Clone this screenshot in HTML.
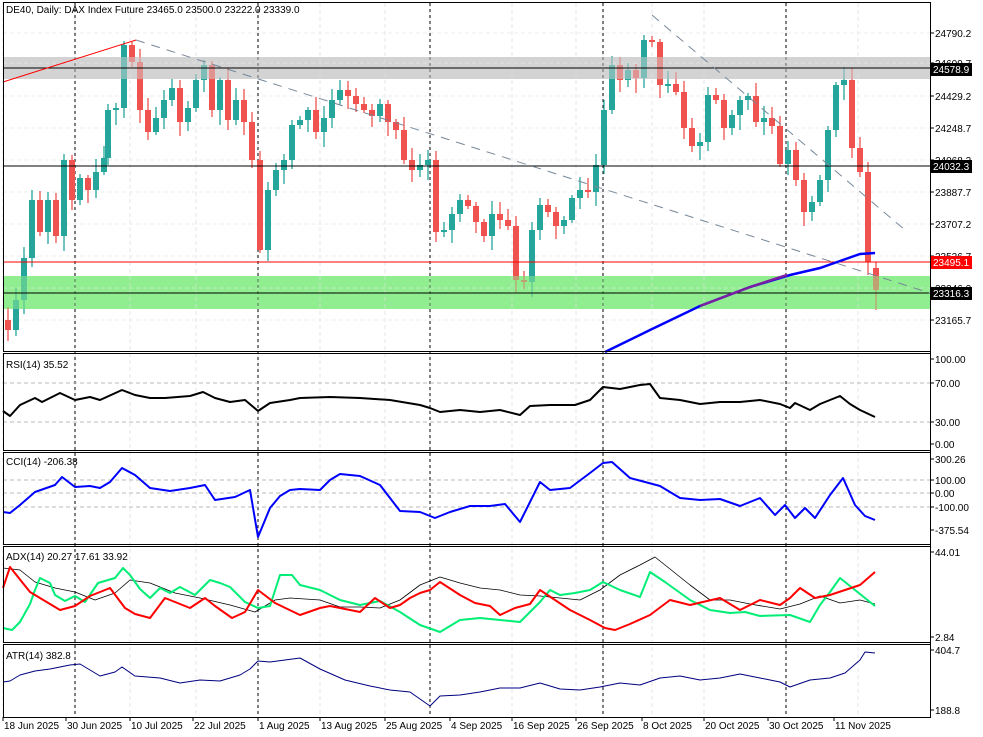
<!DOCTYPE html>
<html><head><meta charset="utf-8"><style>
body{margin:0;background:#fff;}
svg{display:block;font-family:"Liberation Sans",sans-serif;}
</style></head><body>
<svg id="s" width="983" height="737" xmlns="http://www.w3.org/2000/svg"></svg>
<script>
const S=document.getElementById('s');let h='';
const R=930;
function P(pts){let a=[];for(let i=0;i<pts.length;i+=2)a.push(pts[i]+','+pts[i+1]);return a.join(' ');}
h+='<rect x="3" y="57" width="'+(R-3)+'" height="22" fill="#d3d3d3"/>';
h+='<rect x="3" y="276" width="'+(R-3)+'" height="33" fill="#90ee90"/>';
const dx=[3,75,130,196,258,320,385,430,512,576,603,652,704,786,858];
dx.forEach(x=>{h+='<line x1="'+x+'" y1="3" x2="'+x+'" y2="717" stroke="#e6e6ec" stroke-dasharray="4,3"/>';});
[33,63,96,128,160,192,224,256,288,320].forEach(y=>{h+='<line x1="3" y1="'+y+'" x2="'+R+'" y2="'+y+'" stroke="#eee" stroke-dasharray="4,3"/>';});
[75,258,430,603,786].forEach(x=>{h+='<line x1="'+x+'" y1="3" x2="'+x+'" y2="717" stroke="#000" stroke-dasharray="3,3"/>';});
const cl=[8,330,16,300,24,258,32,200,40,232,48,200,56,236,64,160,72,200,80,178,88,190,96,172,104,158,108,110,116,108,124,45,132,62,140,110,148,132,156,118,164,100,172,88,180,122,188,108,196,80,204,65,212,110,220,80,228,120,236,100,244,122,252,160,260,250,268,190,276,170,284,160,292,125,300,120,308,110,316,132,324,118,332,100,340,90,348,96,356,104,364,110,372,116,380,104,388,122,396,130,404,160,412,170,420,165,428,160,436,232,444,230,452,214,460,200,468,206,476,222,484,236,492,214,500,220,508,226,516,280,524,282,532,230,540,205,548,212,556,226,564,220,572,198,580,190,588,192,596,165,604,110,612,65,620,80,628,70,636,78,644,40,652,42,660,85,668,84,676,92,684,128,692,146,700,142,708,95,716,100,724,128,732,115,740,100,748,96,756,122,764,118,772,126,780,164,788,150,796,180,804,212,812,202,820,180,828,130,836,85,844,80,852,148,860,172,868,262];
let prev=320;
function candle(x,o,c,w1,w2){const up=c<o;const top=Math.min(o,c),bot=Math.max(o,c);const col=up?'#26a69a':'#ef5350';
h+='<line x1="'+x+'" y1="'+(top-w1)+'" x2="'+x+'" y2="'+(bot+w2)+'" stroke="'+col+'" stroke-width="1.3"/>';
h+='<rect x="'+(x-3)+'" y="'+top+'" width="6" height="'+Math.max(2,bot-top)+'" fill="'+col+'"/>';}
for(let i=0;i<cl.length;i+=2){const x=cl[i],c=cl[i+1];candle(x,prev,c,3+((x*37)%11),3+((x*53)%13));prev=c;}
candle(876,268,290,6,20);
h+='<rect x="3" y="57" width="'+(R-3)+'" height="22" fill="#d3d3d3" opacity="0.5"/>';
h+='<rect x="3" y="276" width="'+(R-3)+'" height="33" fill="#90ee90" opacity="0.5"/>';
h+='<line x1="3" y1="68" x2="'+R+'" y2="68" stroke="#000"/>';
h+='<line x1="3" y1="166" x2="'+R+'" y2="166" stroke="#000"/>';
h+='<line x1="3" y1="262" x2="'+R+'" y2="262" stroke="#f00"/>';
h+='<line x1="3" y1="293" x2="'+R+'" y2="293" stroke="#000"/>';
h+='<line x1="3" y1="82" x2="136" y2="40" stroke="#f00"/>';
h+='<line x1="136" y1="40" x2="930" y2="293" stroke="#778899" stroke-dasharray="9,7"/>';
h+='<line x1="652" y1="15" x2="905" y2="230" stroke="#778899" stroke-dasharray="9,7"/>';
h+='<polyline points="605,352 650,330 700,306 750,287 790,275 820,268 840,261 860,254 875,253" fill="none" stroke="#00f" stroke-width="2.5"/>';
h+='<polyline points="700,306 750,287 787,275" fill="none" stroke="#7a1fa2" stroke-width="2.5"/>';
function line(pts,col,w){h+='<polyline points="'+P(pts)+'" fill="none" stroke="'+col+'" stroke-width="'+w+'" stroke-linejoin="round"/>';}
[383,422].forEach(y=>h+='<line x1="3" y1="'+y+'" x2="'+R+'" y2="'+y+'" stroke="#bbb" stroke-dasharray="4,3"/>');
[480,493,507].forEach(y=>h+='<line x1="3" y1="'+y+'" x2="'+R+'" y2="'+y+'" stroke="#bbb" stroke-dasharray="4,3"/>');
line([3,411,10,416,20,405,35,398,42,402,60,393,75,400,90,397,100,400,122,390,135,395,150,398,165,398,190,396,203,392,215,398,230,402,245,400,258,411,270,403,290,400,300,398,330,397,360,398,390,400,420,405,430,408,440,412,460,410,480,412,500,410,520,415,530,406,550,405,575,405,590,400,603,387,620,389,640,385,650,384,660,398,680,400,700,404,720,402,740,402,760,400,780,404,790,408,795,403,810,410,820,404,840,396,850,404,860,410,875,417],'#000',2);
line([3,512,10,513,20,505,35,492,55,485,62,477,75,487,90,486,100,488,110,482,122,468,135,475,150,488,170,491,190,488,205,485,215,500,235,497,250,490,258,537,270,508,280,496,290,490,300,489,320,490,330,480,340,474,360,476,380,485,400,511,420,512,435,518,450,512,470,506,490,506,505,504,520,522,540,482,550,490,570,488,590,473,603,463,612,462,630,478,660,486,680,498,700,500,720,499,740,506,760,498,775,515,785,505,795,518,805,508,815,518,830,495,843,478,855,505,865,516,875,520],'#00f',2);
line([3,568,20,570,35,582,55,588,75,592,95,600,115,593,130,580,150,583,175,593,200,598,230,605,255,612,275,600,290,598,320,600,340,607,360,607,380,608,400,600,420,585,440,577,460,583,480,588,500,590,520,595,540,596,560,598,580,600,600,590,620,575,640,565,655,557,665,565,690,585,710,600,730,600,750,604,780,609,800,604,820,596,840,603,860,600,875,604],'#000',0.8);
line([3,628,12,630,20,622,30,604,35,590,40,578,50,583,55,595,65,601,75,596,85,602,98,583,115,578,123,568,130,575,140,589,150,598,160,588,170,593,180,587,195,595,210,580,220,583,230,587,245,602,258,608,270,606,280,575,292,575,300,585,320,590,340,600,360,605,380,601,400,612,420,625,440,632,460,620,480,618,500,620,520,622,540,602,550,590,560,595,575,593,590,590,603,582,620,590,640,597,650,572,665,582,690,600,710,610,730,613,745,612,760,616,790,615,810,622,820,605,830,592,840,578,855,590,875,606],'#00ee76',2);
line([3,588,10,567,30,592,60,610,75,606,90,596,110,588,125,608,135,614,150,618,165,598,175,602,190,608,205,598,215,606,232,618,245,612,258,590,275,603,300,615,320,608,330,606,360,612,375,598,390,608,400,605,410,598,420,593,430,590,440,582,460,595,475,603,490,606,500,615,515,608,530,604,540,590,555,600,570,610,590,620,605,628,615,630,630,624,650,615,670,600,690,605,720,598,740,610,760,600,780,605,790,598,800,588,815,598,830,595,845,590,860,585,875,572],'#f00',2);
line([3,682,10,681,20,675,35,671,50,669,60,667,70,665,80,664,90,670,100,676,115,672,122,667,135,676,160,678,180,683,200,680,220,681,240,675,250,669,258,661,270,662,300,658,320,669,345,680,370,686,390,690,410,692,430,706,440,696,460,695,480,692,500,688,520,688,540,683,560,689,580,690,600,687,620,683,640,685,660,678,680,676,700,680,720,678,740,674,760,678,780,682,790,687,810,680,830,678,845,673,860,660,865,652,875,653],'#000080',1);
[[2,351],[353,450],[452,544],[546,642],[644,717]].forEach(p=>{h+='<rect x="3.5" y="'+(p[0]+0.5)+'" width="'+(R-3)+'" height="'+(p[1]-p[0])+'" fill="none" stroke="#000" stroke-width="1"/>';});
h+='<rect x="931" y="0" width="52" height="737" fill="#fff"/><line x1="'+(R+0.5)+'" y1="2" x2="'+(R+0.5)+'" y2="717" stroke="#000" stroke-width="1"/>';
function lab(y,t){h+='<line x1="'+R+'" y1="'+y+'" x2="'+(R+4)+'" y2="'+y+'" stroke="#000"/><text x="935" y="'+(y+4)+'" font-size="10">'+t+'</text>';}
lab(33,'24790.2');lab(63,'24609.7');lab(96,'24429.2');lab(128,'24248.7');lab(160,'24068.2');lab(192,'23887.7');lab(224,'23707.2');lab(256,'23526.7');lab(288,'23346.2');lab(320,'23165.7');
function box(y,t,c){h+='<rect x="931" y="'+(y-6)+'" width="41" height="13" fill="'+c+'"/><text x="933" y="'+(y+4)+'" font-size="10" fill="#fff">'+t+'</text>';}
box(69,'24578.9','#000');box(166,'24032.3','#000');box(262,'23495.1','#f00');box(293,'23316.3','#000');
lab(359,'100.00');lab(383,'70.00');lab(422,'30.00');lab(444,'0.00');
lab(459,'300.26');lab(480,'100.00');lab(493,'0.00');lab(507,'-100.00');lab(530,'-375.54');
lab(552,'44.01');lab(637,'2.84');lab(650,'404.7');lab(710,'188.8');
h+='<text x="6" y="13" font-size="10">DE40, Daily:  DAX Index Future  23465.0 23500.0 23222.0 23339.0</text>';
h+='<text x="6" y="368" font-size="10">RSI(14) 35.52</text>';
h+='<text x="6" y="465" font-size="10">CCI(14) -206.38</text>';
h+='<text x="6" y="560" font-size="10">ADX(14) 20.27 17.61 33.92</text>';
h+='<text x="6" y="659" font-size="10">ATR(14) 382.8</text>';
[[3,'18 Jun 2025'],[66,'30 Jun 2025'],[130,'10 Jul 2025'],[193,'22 Jul 2025'],[258,'1 Aug 2025'],[320,'13 Aug 2025'],[385,'25 Aug 2025'],[450,'4 Sep 2025'],[512,'16 Sep 2025'],[576,'26 Sep 2025'],[642,'8 Oct 2025'],[704,'20 Oct 2025'],[768,'30 Oct 2025'],[834,'11 Nov 2025']].forEach(d=>{h+='<line x1="'+d[0]+'" y1="717" x2="'+d[0]+'" y2="721" stroke="#000"/><text x="'+(d[0]+1)+'" y="729" font-size="10">'+d[1]+'</text>';});
S.innerHTML=h;
</script>
</body></html>
